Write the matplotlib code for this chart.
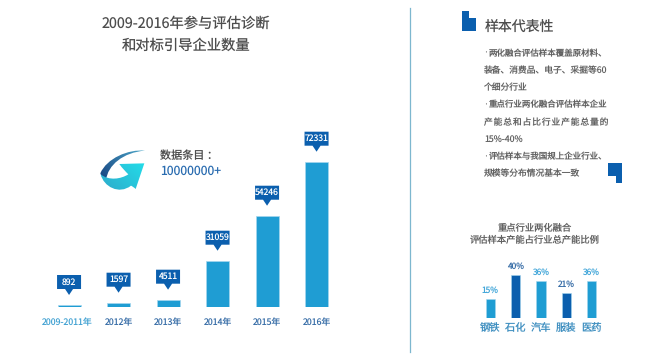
import numpy as np
import matplotlib
matplotlib.use("Agg")
import matplotlib.pyplot as plt
from matplotlib.patches import Polygon, PathPatch
from matplotlib.path import Path

plt.rcParams['font.family'] = ['Noto Sans CJK SC', 'DejaVu Sans']
plt.rcParams['text.hinting'] = 'no_hinting'
plt.rcParams['text.hinting_factor'] = 1

# main chart
years = ["2009-2011年", "2012年", "2013年", "2014年", "2015年", "2016年"]
counts = [892, 1597, 4511, 31059, 54246, 72331]
# bars in the picture are not proportional to the printed counts, so heights are read separately
bar_heights = [1140, 2290, 3780, 23150, 45500, 72331]

# small chart
industries = ["钢铁", "石化", "汽车", "服装", "医药"]
shares = [15, 40, 36, 21, 36]
share_heights = [17.8, 40, 34.2, 23.4, 34.2]

title_lines = ["2009-2016年参与评估诊断", "和对标引导企业数量"]
small_title_lines = ["重点行业两化融合", "评估样本产能占行业总产能比例"]
hs = "\u200a"
note_lines = [
    "两化融合评估样本覆盖原材料、",
    "装备、消费品、电子、采掘等60",
    "个细分行业",
    "重点行业两化融合评估样本企业",
    hs.join("产能总和占比行业产能总量的"),
    "15%-40%",
    "评估样本与我国规上企业行业、",
    "规模等分布情况基本一致",
]
note_bullets = [True, False, False, True, False, False, True, False]

BLUE = "#1f9dd3"
DARK = "#0b5fae"
GREY = "#4d4d4d"
NOTE = "#626262"

fig = plt.figure(figsize=(6.5, 3.61), dpi=100, facecolor="white")
W, H = 650, 361

# pixel overlay for texts and decoration
bg = fig.add_axes([0, 0, 1, 1])
bg.set_xlim(0, W)
bg.set_ylim(H, 0)
bg.axis("off")

def px_axes(x0, y0, x1, y1):
    ax = fig.add_axes([x0 / W, 1 - y1 / H, (x1 - x0) / W, (y1 - y0) / H])
    ax.axis("off")
    ax.patch.set_alpha(0)
    return ax

# bars, main chart
ax = px_axes(44.3, 161.7, 341.3, 307.3)
xs = np.arange(len(years))
ax.bar(xs, bar_heights, width=0.465, color=BLUE, edgecolor="#a5d7ee", linewidth=0.5)
ax.set_xlim(-0.5, 5.5)
ax.set_ylim(0, 72331)

# callouts
for i in range(len(counts)):
    bx, by = ax.transData.transform((xs[i], bar_heights[i]))
    by = H - by
    tip = by - 10
    bg.add_patch(Polygon([(bx - 12, tip - 20), (bx + 12, tip - 20), (bx + 12, tip - 6),
                          (bx + 4, tip - 6), (bx, tip), (bx - 4, tip - 6), (bx - 12, tip - 6)],
                         closed=True, facecolor=DARK, edgecolor="none"))
    bg.text(bx, tip - 13, str(counts[i]), color="white", fontsize=6.2, ha="center", va="center")
    col = "#45a3d3" if i == 0 else "#3a6fa8"
    bg.text(bx - (1.5 if i == 0 else 0), 322.7, years[i], color=col, fontsize=6.3, ha="center", va="center")

# bars, small chart
ax2 = px_axes(477.5, 275, 604.5, 318.3)
xs2 = np.arange(len(industries))
bar_cols = [BLUE, DARK, BLUE, DARK, BLUE]
ax2.bar(xs2, share_heights, width=0.355, color=bar_cols, edgecolor="#a5d7ee", linewidth=0.4)
ax2.set_xlim(-0.5, 4.5)
ax2.set_ylim(0, 40)
for i in range(len(shares)):
    bx, by = ax2.transData.transform((xs2[i], share_heights[i]))
    by = H - by
    col = "#45a8da" if i % 2 == 0 else "#3a6fa8"
    bg.text(bx, by - 9, str(shares[i]) + "%", color=col, fontsize=6, ha="center", va="center")
    bg.text(bx, 327.8, industries[i], color="#3f8fc0", fontsize=7.4, ha="center", va="center")

# texts
bg.text(186, 23.5, title_lines[0], color=GREY, fontsize=10.3, ha="center", va="center")
bg.text(186, 46, title_lines[1], color=GREY, fontsize=10.3, ha="center", va="center")
bg.text(485, 26.5, "样本代表性", color=GREY, fontsize=10, ha="left", va="center")
note_y = [53.3, 70.7, 88, 105, 122.3, 139, 156.7, 173.3]
for y, line, bullet in zip(note_y, note_lines, note_bullets):
    if bullet:
        bg.text(484, y, "·", color=NOTE, fontsize=6.3, family="DejaVu Sans", ha="left", va="center")
        bg.text(489, y, line, color=NOTE, fontsize=6.1, ha="left", va="center")
    else:
        bg.text(484, y, line, color=NOTE, fontsize=6.3, ha="left", va="center")
bg.text(534.7, 227.3, small_title_lines[0], color=NOTE, fontsize=6.7, ha="center", va="center")
bg.text(534.7, 240.7, small_title_lines[1], color=NOTE, fontsize=6.7, ha="center", va="center")
bg.text(160, 155.7, "数据条目 ：", color=GREY, fontsize=8, ha="left", va="center")
bg.text(160, 171.7, "10000000+", color="#2a6cb0", fontsize=8.8, ha="left", va="center")

# divider
bg.plot([410, 410], [8, 352], color="#7db7cf", lw=0.9)

# corner marks
bg.add_patch(Polygon([(462.3, 10.5), (468.5, 10.5), (468.5, 17.5), (476, 17.5), (476, 31), (462.3, 31)],
                     closed=True, facecolor=DARK, edgecolor="none"))
bg.add_patch(Polygon([(608.3, 163), (622, 163), (622, 182.5), (615.5, 182.5), (615.5, 175.5), (608.3, 175.5)],
                     closed=True, facecolor=DARK, edgecolor="none"))

# swoosh icon, drawn from curves in zoomed coords of the crop at (95,145)
def ic(p):
    return (95 + p[0] / 3, 145 + p[1] / 3)

def curve_path(start, segs):
    verts = [ic(start)]
    codes = [Path.MOVETO]
    for s in segs:
        if len(s) == 1:
            verts.append(ic(s[0]))
            codes.append(Path.LINETO)
        else:
            verts += [ic(s[0]), ic(s[1]), ic(s[2])]
            codes += [Path.CURVE4] * 3
    verts.append(verts[0])
    codes.append(Path.CLOSEPOLY)
    return Path(verts, codes)

def gradient_fill(path, c0, c1, angle):
    a = np.array(matplotlib.colors.to_rgb(c0))
    b = np.array(matplotlib.colors.to_rgb(c1))
    yy, xx = np.mgrid[0:1:60j, 0:1:60j]
    t = xx * np.cos(angle) + yy * np.sin(angle)
    t = (t - t.min()) / (t.max() - t.min())
    img = a[None, None, :] * (1 - t[..., None]) + b[None, None, :] * t[..., None]
    im = bg.imshow(img, extent=(95, 155, 195, 145), aspect="auto", interpolation="bilinear", zorder=2)
    patch = PathPatch(path, transform=bg.transData, facecolor="none", edgecolor="none")
    bg.add_patch(patch)
    im.set_clip_path(patch)

band = curve_path((150, 17), [((100, 12), (35, 40), (16, 85)), ((20, 95), (26, 102), (33, 106)),
                              ((38, 60), (85, 22), (150, 17))])
gradient_fill(band, "#082a6e", "#58bcd8", -0.6)

arrow = curve_path((17, 88), [((26, 125), (72, 150), (108, 122)), ((112, 124), (118, 128), (122, 132)),
                              ((148, 55),), ((73, 57),), ((82, 70), (92, 80), (100, 88)),
                              ((78, 102), (42, 108), (17, 88))])
gradient_fill(arrow, "#2fa3c6", "#1ff0f5", -0.75)

bg.set_xlim(0, W)
bg.set_ylim(H, 0)

fig.savefig("out.png", dpi=100)
